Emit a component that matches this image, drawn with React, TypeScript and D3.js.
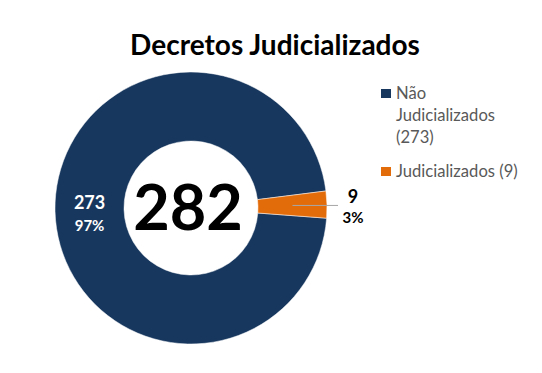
import * as d3 from "d3";

const categories = ["Não Judicializados", "Judicializados"];
const values = [273, 9];
const sliceColors = ["#17375E", "#E36C0A"];
const legendLines = [["Não", "Judicializados", "(273)"], ["Judicializados (9)"]];
const title = "Decretos Judicializados";

const width = 542;
const height = 373;
const center = { x: 191, y: 208 };
const outerR = 136;
const innerR = 67;
const font = "Lato, 'Open Sans', sans-serif";

export default function App() {
    const total = d3.sum(values);
    const data = categories.map((c, i) => ({ key: c, value: values[i] }));

    const pie = d3
        .pie<{ key: string; value: number }>()
        .value(d => d.value)
        .sort(null)
        .startAngle((94.3 * Math.PI) / 180)
        .endAngle((94.3 * Math.PI) / 180 + 2 * Math.PI);
    const arcs = pie(data);

    const arc = d3
        .arc<d3.PieArcDatum<{ key: string; value: number }>>()
        .innerRadius(innerR)
        .outerRadius(outerR);

    const color = d3.scaleOrdinal<string, string>().domain(categories).range(sliceColors);
    const pct = (v: number) => Math.round((v / total) * 100) + "%";

    const [bigArc, smallArc] = arcs;
    const [bx, by] = arc.centroid(bigArc);
    const [sx, sy] = arc.centroid(smallArc);

    return (
        <svg
            width={width}
            height={height}
            style={{ position: "absolute", left: 0, top: 0, background: "#fff" }}
        >
            <text
                x={275}
                y={55}
                textAnchor="middle"
                fontFamily={font}
                fontWeight="bold"
                fontSize={28}
                fill="#000"
            >
                {title}
            </text>

            <g transform={`translate(${center.x},${center.y})`}>
                {arcs.map(a => (
                    <path key={a.data.key} d={arc(a) || ""} fill={color(a.data.key)} stroke="#fff" strokeWidth={0.5} />
                ))}

                <text x={bx} y={by - 2} textAnchor="middle" fontFamily={font} fontWeight="bold" fontSize={18} fill="#fff">
                    {bigArc.data.value}
                </text>
                <text x={bx} y={by + 20} textAnchor="middle" fontFamily={font} fontWeight="bold" fontSize={15} fill="#fff">
                    {pct(bigArc.data.value)}
                </text>

                <line x1={sx} y1={sy} x2={147} y2={sy} stroke="#a6a6a6" strokeWidth={1} />
                <text x={162} y={sy - 2} textAnchor="middle" fontFamily={font} fontWeight="bold" fontSize={18} fill="#000">
                    {smallArc.data.value}
                </text>
                <text x={162} y={sy + 18} textAnchor="middle" fontFamily={font} fontWeight="bold" fontSize={15} fill="#000">
                    {pct(smallArc.data.value)}
                </text>

                <text
                    x={-3}
                    y={22}
                    textAnchor="middle"
                    fontFamily={font}
                    fontWeight="bold"
                    fontSize={63}
                    fill="#000"
                >
                    {total}
                </text>
            </g>

            <g transform="translate(381,89)">
                {legendLines.map((lines, i) => (
                    <g key={i} transform={`translate(0,${i * 78})`}>
                        <rect width={10} height={9} fill={sliceColors[i]} />
                        <text fontFamily={font} fontSize={16.6} fill="#595959">
                            {lines.map((l, j) => (
                                <tspan key={j} x={15} y={10 + j * 22}>
                                    {l}
                                </tspan>
                            ))}
                        </text>
                    </g>
                ))}
            </g>
        </svg>
    );
}
